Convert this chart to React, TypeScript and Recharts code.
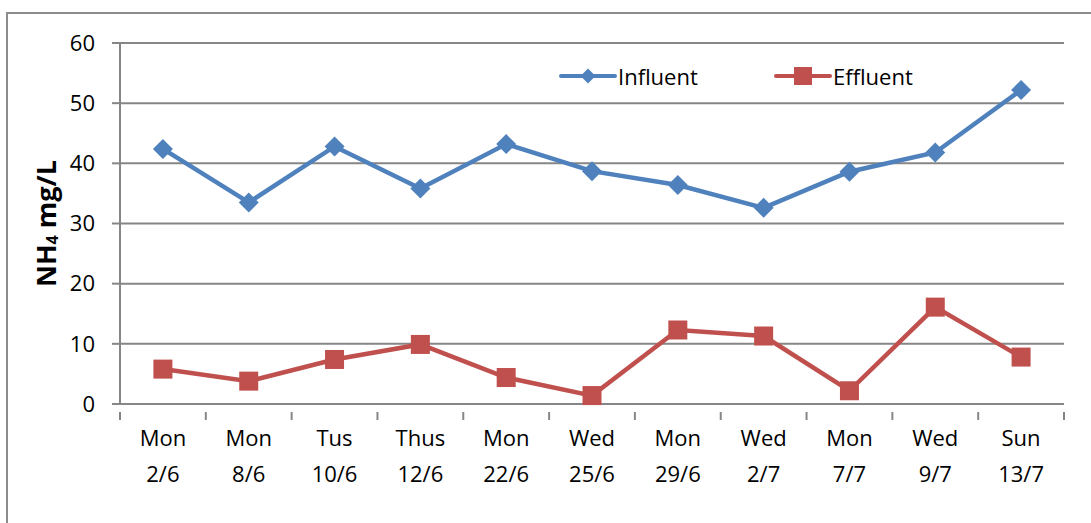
import { LineChart, Line, XAxis, YAxis, CartesianGrid } from 'recharts'

const DAYS = ['Mon', 'Mon', 'Tus', 'Thus', 'Mon', 'Wed', 'Mon', 'Wed', 'Mon', 'Wed', 'Sun']
const DATES = ['2/6', '8/6', '10/6', '12/6', '22/6', '25/6', '29/6', '2/7', '7/7', '9/7', '13/7']
const INFLUENT = [42.4, 33.5, 42.8, 35.8, 43.2, 38.7, 36.4, 32.6, 38.6, 41.8, 52.2]
const EFFLUENT = [5.8, 3.8, 7.4, 9.9, 4.4, 1.4, 12.3, 11.3, 2.2, 16.1, 7.8]
const Y_TICKS = [0, 10, 20, 30, 40, 50, 60]

const BLUE = '#4F81BD'
const RED = '#C0504D'
const GRID = '#868686'
const FONT = '"Open Sans", sans-serif'
const FS = 22

const W = 1091
const H = 523
const PLOT_LEFT = 120
const PLOT_RIGHT = 1064
const BAND = (PLOT_RIGHT - PLOT_LEFT) / DAYS.length

// points sit in the middle of each category band, tick marks on the band edges
const data = DAYS.map((day, i) => ({
  x: i + 0.5,
  day,
  date: DATES[i],
  influent: INFLUENT[i],
  effluent: EFFLUENT[i],
}))
const X_EDGES = Array.from({ length: DAYS.length + 1 }, (_, i) => i)

function diamond(cx: number, cy: number, r: number, fill: string, key?: number) {
  return <polygon key={key} points={`${cx},${cy - r} ${cx + r},${cy} ${cx},${cy + r} ${cx - r},${cy}`} fill={fill} />
}

function square(cx: number, cy: number, r: number, fill: string, key?: number) {
  return <rect key={key} x={cx - r} y={cy - r} width={r * 2} height={r * 2} fill={fill} />
}

// eslint-disable-next-line @typescript-eslint/no-explicit-any
function XTick({ x, y, payload }: any) {
  const i = payload.value as number
  return (
    <g>
      <line x1={x} x2={x} y1={y} y2={y + 8} stroke={GRID} strokeWidth={2} />
      {i < DAYS.length && (
        <text x={x + BAND / 2} textAnchor="middle" fontSize={FS} fill="#000" fontFamily={FONT}>
          <tspan x={x + BAND / 2} y={y + 34}>{DAYS[i]}</tspan>
          <tspan x={x + BAND / 2} y={y + 70}>{DATES[i]}</tspan>
        </text>
      )}
    </g>
  )
}

// eslint-disable-next-line @typescript-eslint/no-explicit-any
function YLabel({ viewBox }: any) {
  const cy = viewBox.y + viewBox.height / 2
  const cx = 45
  return (
    <text
      x={cx}
      y={cy}
      transform={`rotate(-90 ${cx} ${cy})`}
      textAnchor="middle"
      dominantBaseline="central"
      fontSize={27}
      fontWeight="bold"
      fontFamily={FONT}
      fill="#000"
    >
      NH<tspan fontSize={16} dy={7}>4</tspan>
      <tspan dy={-7}> mg/L</tspan>
    </text>
  )
}

function ChartLegend() {
  const item = (left: number, label: string, color: string, marker: 'diamond' | 'square') => (
    <div style={{ position: 'absolute', left, top: 0, display: 'flex', alignItems: 'center', whiteSpace: 'nowrap' }}>
      <svg width={58} height={28} style={{ display: 'block' }}>
        <line x1={2} x2={56} y1={14} y2={14} stroke={color} strokeWidth={4} strokeLinecap="round" />
        {marker === 'diamond' ? diamond(29, 14, 7.5, color) : square(29, 14, 9, color)}
      </svg>
      <span style={{ fontFamily: FONT, fontSize: FS, color: '#000', marginLeft: 1, lineHeight: '28px' }}>{label}</span>
    </div>
  )
  return (
    <div style={{ position: 'absolute', left: 559, top: 62, width: 420, height: 28 }}>
      {item(0, 'Influent', BLUE, 'diamond')}
      {item(215, 'Effluent', RED, 'square')}
    </div>
  )
}

export default function App() {
  return (
    <div style={{ position: 'fixed', left: 0, top: 0, width: W, height: H, overflow: 'hidden', background: '#fff' }}>
      <div
        style={{
          position: 'absolute',
          left: 6,
          top: 12,
          width: W + 40,
          height: H + 40,
          border: '2px solid #8c8c8c',
          boxSizing: 'border-box',
        }}
      />
      <div style={{ position: 'absolute', left: 0, top: 0 }}>
        <LineChart width={W} height={H} data={data} margin={{ top: 43, right: W - PLOT_RIGHT, bottom: 39, left: 0 }}>
          <CartesianGrid vertical={false} stroke={GRID} strokeWidth={2} />
          <XAxis
            dataKey="x"
            type="number"
            domain={[0, DAYS.length]}
            ticks={X_EDGES}
            interval={0}
            height={80}
            tickLine={false}
            axisLine={{ stroke: GRID, strokeWidth: 2 }}
            tick={<XTick />}
          />
          <YAxis
            type="number"
            domain={[0, 60]}
            ticks={Y_TICKS}
            interval={0}
            width={PLOT_LEFT}
            tickSize={8}
            tickMargin={17}
            tickLine={{ stroke: GRID, strokeWidth: 2 }}
            axisLine={{ stroke: GRID, strokeWidth: 2 }}
            tick={{ fontSize: FS, fill: '#000', fontFamily: FONT }}
            label={<YLabel />}
          />
          <Line
            type="linear"
            dataKey="influent"
            name="Influent"
            stroke={BLUE}
            strokeWidth={4.5}
            // eslint-disable-next-line @typescript-eslint/no-explicit-any
            dot={(p: any) => diamond(p.cx, p.cy, 10, BLUE, p.index)}
            activeDot={false}
            isAnimationActive={false}
          />
          <Line
            type="linear"
            dataKey="effluent"
            name="Effluent"
            stroke={RED}
            strokeWidth={4.5}
            // eslint-disable-next-line @typescript-eslint/no-explicit-any
            dot={(p: any) => square(p.cx, p.cy, 9.5, RED, p.index)}
            activeDot={false}
            isAnimationActive={false}
          />
        </LineChart>
      </div>
      <ChartLegend />
    </div>
  )
}
